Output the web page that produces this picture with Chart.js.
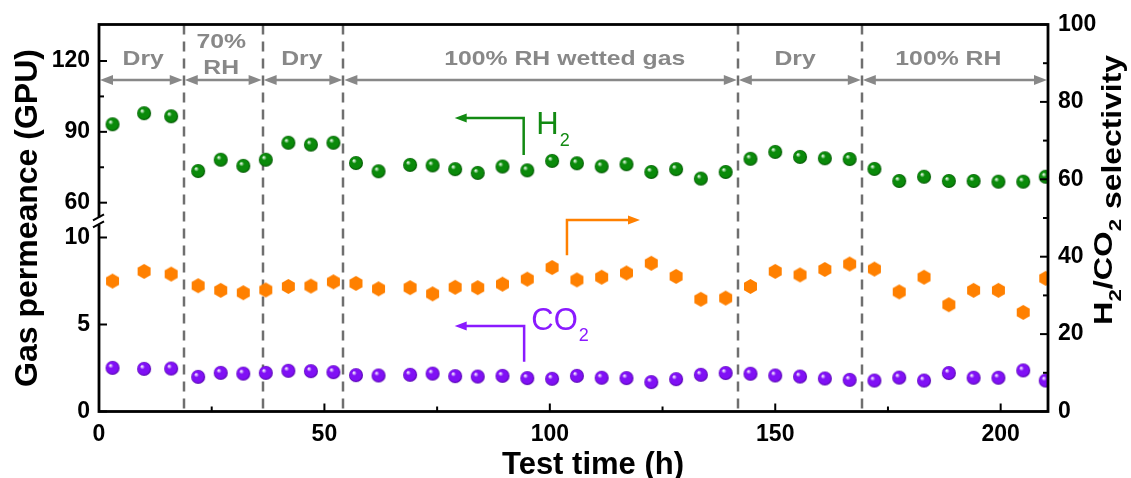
<!DOCTYPE html>
<html>
<head>
<meta charset="utf-8">
<script src="https://cdn.jsdelivr.net/npm/chart.js@4/dist/chart.umd.min.js"></script>
<style>
  body { margin: 0; background: #fff; }
  #wrap { width: 1131px; height: 478px; }
</style>
</head>
<body>
<div id="wrap"><canvas id="chart" width="1131" height="478"></canvas></div>
<script>
// test time (h) of each measurement
var times = [3,10,16,22,27,32,37,42,47,52,57,62,69,74,79,84,89.5,95,100.5,106,111.5,117,122.5,128,133.5,139,144.5,150,155.5,161,166.5,172,177.5,183,188.5,194,199.5,205,210];
// H2 permeance (GPU)
var h2Perm = [93.2,97.9,96.6,73.4,78.2,75.6,78.2,85.4,84.6,85.4,76.8,73.3,76.0,75.8,74.2,72.6,75.3,73.7,77.7,76.7,75.4,76.3,73.0,74.2,70.2,73.0,78.6,81.5,79.4,78.8,78.5,74.3,69.2,71.0,69.2,69.2,68.9,68.9,71.0];
// CO2 permeance (GPU)
var co2Perm = [2.51,2.45,2.47,1.99,2.22,2.18,2.22,2.34,2.32,2.26,2.09,2.07,2.11,2.18,2.03,2.01,2.05,1.92,1.88,2.05,1.94,1.92,1.69,1.86,2.11,2.21,2.17,2.07,2.01,1.90,1.82,1.78,1.95,1.78,2.21,1.94,1.94,2.36,1.78];
// H2/CO2 selectivity
var selectivity = [33.7,36.2,35.5,32.5,31.3,30.7,31.4,32.3,32.4,33.5,33.1,31.7,32.0,30.4,32.1,32.0,32.9,34.2,37.2,34.0,34.7,35.8,38.3,34.9,29.0,29.3,32.3,36.2,35.3,36.7,38.1,36.8,30.9,34.7,27.6,31.3,31.3,25.6,34.4];

// conditions along the top
var stageBounds = [0, 18.8, 36.3, 54.2, 141.7, 169.2, 210.5];
var stageLabels = [["Dry"], ["70%", "RH"], ["Dry"], ["100% RH wetted gas"], ["Dry"], ["100% RH"]];
var stageLabelX = [9.8, 27.1, 45, 103.3, 154.4, 188.4];

var xTicks = [0, 50, 100, 150, 200];
var xMinor = [25, 75, 125, 175];
var leftTicks = [0, 5, 10, 60, 90, 120];
var leftMinor = [75, 105];
var rightTicks = [0, 20, 40, 60, 80, 100];
var rightMinor = [10, 30, 50, 70, 90];

// broken left axis: 0-10 below the break, 60-135 above it
function toV(v) { return v <= 30 ? v : 12.0 + (v - 60) * 0.1357; }
function fromV(v) { return v <= 10.5 ? v : 60 + (v - 12.0) / 0.1357; }

Chart.defaults.font.family = "'Liberation Sans', Arial, sans-serif";
Chart.defaults.color = '#000';

function sphere(light, base, dark, r) {
  var c = document.createElement('canvas');
  var s = Math.ceil(r * 2) + 2;
  c.width = c.height = s;
  var g = c.getContext('2d');
  var cx = s / 2, cy = s / 2;
  var grd = g.createRadialGradient(cx - r * 0.35, cy - r * 0.4, 0, cx, cy, r);
  grd.addColorStop(0, '#ffffff');
  grd.addColorStop(0.12, light);
  grd.addColorStop(0.35, base);
  grd.addColorStop(0.8, base);
  grd.addColorStop(1, dark);
  g.fillStyle = grd;
  g.beginPath();
  g.arc(cx, cy, r, 0, Math.PI * 2);
  g.fill();
  return c;
}

function hexagon(color, r) {
  var c = document.createElement('canvas');
  var s = Math.ceil(r * 2) + 2;
  c.width = c.height = s;
  var g = c.getContext('2d');
  g.fillStyle = color;
  g.beginPath();
  for (var i = 0; i < 6; i++) {
    var a = Math.PI / 2 + i * Math.PI / 3;
    var px = s / 2 + r * Math.cos(a), py = s / 2 + r * Math.sin(a);
    if (i === 0) g.moveTo(px, py); else g.lineTo(px, py);
  }
  g.closePath();
  g.fill();
  return c;
}

function arrowHead(ctx, tx, ty, dir, len, half) {
  ctx.beginPath();
  ctx.moveTo(tx, ty);
  ctx.lineTo(tx - dir * len, ty - half);
  ctx.lineTo(tx - dir * len, ty + half);
  ctx.closePath();
  ctx.fill();
}

function line(ctx, x0, y0, x1, y1) {
  ctx.beginPath();
  ctx.moveTo(x0, y0);
  ctx.lineTo(x1, y1);
  ctx.stroke();
}

// bent arrow: vertical from (x0,y0) up to y1, then horizontal to x1 with head
function bentArrow(ctx, color, x0, y0, y1, x1) {
  ctx.strokeStyle = color;
  ctx.fillStyle = color;
  ctx.lineWidth = 2.5;
  ctx.beginPath();
  ctx.moveTo(x0, y0);
  ctx.lineTo(x0, y1);
  var dir = x1 > x0 ? 1 : -1;
  ctx.lineTo(x1 - dir * 8, y1);
  ctx.stroke();
  arrowHead(ctx, x1, y1, dir, 12, 4.5);
}

function stretchText(ctx, text, x, y, sx) {
  ctx.save();
  ctx.translate(x, y);
  ctx.scale(sx, 1);
  ctx.fillText(text, 0, 0);
  ctx.restore();
}

var decor = {
  id: 'decor',
  beforeDatasetsDraw: function (chart) {
    var ctx = chart.ctx, a = chart.chartArea;
    var x = chart.scales.x, yL = chart.scales.yL, yR = chart.scales.yR;
    ctx.save();
    // dashed stage boundaries
    ctx.strokeStyle = '#6f6f6f';
    ctx.lineWidth = 2.5;
    ctx.setLineDash([10, 7]);
    stageBounds.slice(1, -1).forEach(function (t) {
      var px = Math.round(x.getPixelForValue(t));
      line(ctx, px, a.top, px, a.bottom);
    });
    ctx.setLineDash([]);

    // double-headed arrows with labels
    var ay = yL.getPixelForValue(toV(112));
    ctx.strokeStyle = '#888';
    ctx.fillStyle = '#888';
    ctx.lineWidth = 2.5;
    for (var i = 0; i < stageBounds.length - 1; i++) {
      var x0 = x.getPixelForValue(stageBounds[i]);
      var x1 = x.getPixelForValue(stageBounds[i + 1]);
      line(ctx, x0 + 6, ay, x1 - 6, ay);
      arrowHead(ctx, x0 + 1, ay, -1, 13, 5);
      arrowHead(ctx, x1 - 1, ay, 1, 13, 5);
    }
    ctx.font = 'bold 21px "Liberation Sans", Arial, sans-serif';
    ctx.textAlign = 'center';
    ctx.textBaseline = 'alphabetic';
    stageLabels.forEach(function (lab, i) {
      var cx = x.getPixelForValue(stageLabelX[i]);
      if (lab.length === 1) {
        stretchText(ctx, lab[0], cx, ay - 15, 1.18);
      } else {
        stretchText(ctx, lab[0], cx, ay - 32, 1.18);
        stretchText(ctx, lab[1], cx, ay - 6, 1.18);
      }
    });

    // series annotations
    bentArrow(ctx, '#128a12', x.getPixelForValue(94.2), yL.getPixelForValue(toV(80.2)),
      yL.getPixelForValue(toV(95.9)), x.getPixelForValue(78.9));
    bentArrow(ctx, '#8a1aff', x.getPixelForValue(94.3), yL.getPixelForValue(toV(2.86)),
      yL.getPixelForValue(toV(4.91)), x.getPixelForValue(78.9));
    bentArrow(ctx, '#ff8000', x.getPixelForValue(103.8), yR.getPixelForValue(40.4),
      yR.getPixelForValue(49.5), x.getPixelForValue(120));

    ctx.textAlign = 'left';
    var hx = x.getPixelForValue(97.0), hy = yL.getPixelForValue(toV(89.0));
    ctx.fillStyle = '#128a12';
    ctx.font = '31px "Liberation Sans", Arial, sans-serif';
    ctx.fillText('H', hx, hy);
    var w = ctx.measureText('H').width;
    ctx.font = '18px "Liberation Sans", Arial, sans-serif';
    ctx.fillText('2', hx + w + 1, hy + 12);

    var cx2 = x.getPixelForValue(95.9), cy2 = yL.getPixelForValue(toV(4.68));
    ctx.fillStyle = '#8a1aff';
    ctx.font = '31px "Liberation Sans", Arial, sans-serif';
    ctx.fillText('CO', cx2, cy2);
    w = ctx.measureText('CO').width;
    ctx.font = '18px "Liberation Sans", Arial, sans-serif';
    ctx.fillText('2', cx2 + w + 1, cy2 + 11);
    ctx.restore();
  },
  afterDraw: function (chart) {
    var ctx = chart.ctx, a = chart.chartArea;
    var x = chart.scales.x, yL = chart.scales.yL, yR = chart.scales.yR;
    ctx.save();
    ctx.strokeStyle = '#000';
    ctx.lineWidth = 2.8;
    ctx.lineCap = 'square';
    ctx.strokeRect(a.left, a.top, a.right - a.left, a.bottom - a.top);
    ctx.lineCap = 'butt';

    // inward ticks
    ctx.lineWidth = 2;
    xTicks.forEach(function (t) { var p = x.getPixelForValue(t); line(ctx, p, a.bottom, p, a.bottom - 8); });
    xMinor.forEach(function (t) { var p = x.getPixelForValue(t); line(ctx, p, a.bottom, p, a.bottom - 5); });
    leftTicks.forEach(function (t) { var p = yL.getPixelForValue(toV(t)); line(ctx, a.left, p, a.left + 8, p); });
    leftMinor.forEach(function (t) { var p = yL.getPixelForValue(toV(t)); line(ctx, a.left, p, a.left + 5, p); });
    rightTicks.forEach(function (t) { var p = yR.getPixelForValue(t); line(ctx, a.right, p, a.right - 8, p); });
    rightMinor.forEach(function (t) { var p = yR.getPixelForValue(t); line(ctx, a.right, p, a.right - 5, p); });

    // axis break marks
    var by0 = yL.getPixelForValue(toV(10)) - 20, by1 = by0 + 7;
    ctx.fillStyle = '#fff';
    ctx.fillRect(a.left - 3, by0, 6, by1 - by0);
    ctx.lineWidth = 2;
    line(ctx, a.left - 6, by0 + 3, a.left + 5, by0 - 3);
    line(ctx, a.left - 6, by1 + 3, a.left + 5, by1 - 3);

    // axis titles
    ctx.fillStyle = '#000';
    ctx.textBaseline = 'alphabetic';
    ctx.textAlign = 'center';
    ctx.font = 'bold 31px "Liberation Sans", Arial, sans-serif';
    ctx.fillText('Test time (h)', 593, 474);

    ctx.save();
    ctx.translate(37, 218);
    ctx.rotate(-Math.PI / 2);
    ctx.font = 'bold 32px "Liberation Sans", Arial, sans-serif';
    ctx.fillText('Gas permeance (GPU)', 0, 0);
    ctx.restore();

    // right title with subscripts, reading upward
    ctx.save();
    ctx.translate(1112, 325);
    ctx.rotate(-Math.PI / 2);
    ctx.textAlign = 'left';
    var main = 'bold 25px "Liberation Sans", Arial, sans-serif';
    var sub = 'bold 17px "Liberation Sans", Arial, sans-serif';
    var parts = [['H', main, 0], ['2', sub, 9], ['/CO', main, 0], ['2', sub, 9]];
    var total = 0;
    parts.forEach(function (p) { ctx.font = p[1]; total += ctx.measureText(p[0]).width; });
    var sx = 106 / total, pos = 0;
    parts.forEach(function (p) {
      ctx.font = p[1];
      ctx.save();
      ctx.scale(sx, 1);
      ctx.fillText(p[0], pos / sx, p[2]);
      ctx.restore();
      pos += ctx.measureText(p[0]).width * sx;
    });
    ctx.font = 'bold 28px "Liberation Sans", Arial, sans-serif';
    var sw = ctx.measureText('selectivity').width;
    ctx.save();
    ctx.translate(116, 9);
    ctx.scale(154 / sw, 1);
    ctx.fillText('selectivity', 0, 0);
    ctx.restore();
    ctx.restore();
    ctx.restore();
  }
};

function pts(ys, f) {
  return times.map(function (t, i) { return { x: t, y: f ? f(ys[i]) : ys[i] }; });
}

var tickFont = { size: 23, weight: 'bold' };

new Chart(document.getElementById('chart'), {
  type: 'scatter',
  data: {
    datasets: [
      {
        label: 'H2',
        data: pts(h2Perm, toV),
        yAxisID: 'yL',
        pointStyle: sphere('#bfe8bf', '#0a8a0a', '#005000', 7),
        pointRadius: 7
      },
      {
        label: 'CO2',
        data: pts(co2Perm, toV),
        yAxisID: 'yL',
        pointStyle: sphere('#e2c8ff', '#8010f5', '#5000a8', 7),
        pointRadius: 7
      },
      {
        label: 'H2/CO2 selectivity',
        data: pts(selectivity),
        yAxisID: 'yR',
        pointStyle: hexagon('#ff8000', 7.5),
        pointRadius: 7.5
      }
    ]
  },
  options: {
    responsive: false,
    animation: false,
    devicePixelRatio: 1,
    layout: { padding: { top: 24.5, left: 0, right: 0, bottom: 0 } },
    plugins: { legend: { display: false }, tooltip: { enabled: false } },
    scales: {
      x: {
        type: 'linear',
        position: 'bottom',
        min: 0,
        max: 210.5,
        grid: { display: false, drawTicks: false },
        border: { display: false },
        afterBuildTicks: function (s) { s.ticks = xTicks.map(function (v) { return { value: v }; }); },
        afterFit: function (s) { s.height = 66.5; },
        ticks: { font: tickFont, padding: 9, maxRotation: 0 }
      },
      yL: {
        type: 'linear',
        position: 'left',
        min: 0,
        max: 22.24,
        grid: { display: false, drawTicks: false },
        border: { display: false },
        afterBuildTicks: function (s) { s.ticks = leftTicks.map(function (v) { return { value: toV(v) }; }); },
        afterFit: function (s) { s.width = 99; },
        ticks: {
          font: tickFont,
          padding: 9,
          callback: function (v) { return String(Math.round(fromV(v))); }
        }
      },
      yR: {
        type: 'linear',
        position: 'right',
        min: 0,
        max: 100,
        grid: { display: false, drawTicks: false },
        border: { display: false },
        afterBuildTicks: function (s) { s.ticks = rightTicks.map(function (v) { return { value: v }; }); },
        afterFit: function (s) { s.width = 83; },
        ticks: { font: tickFont, padding: 10 }
      }
    }
  },
  plugins: [decor]
});
</script>
</body>
</html>
